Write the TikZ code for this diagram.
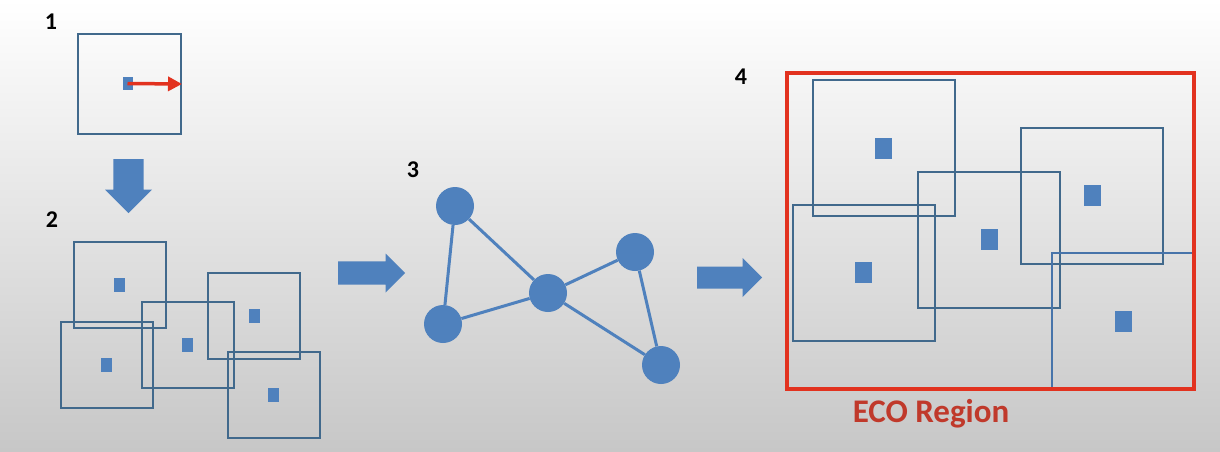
\documentclass[tikz,border=0pt]{standalone}
\usepackage{fontspec}
\setmainfont{Carlito}
\usepackage{xcolor}
\usepackage{tikz}
\usetikzlibrary{positioning,arrows.meta,shapes.arrows}

\definecolor{winblue}{HTML}{41698C}
\definecolor{seedblue}{HTML}{4F81BD}
\definecolor{ecored}{HTML}{E2321F}
\definecolor{ecotext}{HTML}{C0392B}

\begin{document}
\begin{tikzpicture}[x=1pt, y=-1pt,
    win/.style={draw=winblue, line width=2pt, inner sep=0pt,
                minimum width=92pt, minimum height=86pt},
    bigwin/.style={win, minimum width=142pt, minimum height=136pt},
    seed/.style={fill=seedblue, inner sep=0pt, minimum width=11pt, minimum height=14pt},
    bigseed/.style={seed, minimum width=17pt, minimum height=21pt},
    vert/.style={circle, fill=seedblue, inner sep=0pt, minimum size=38pt},
    link/.style={draw=seedblue, line width=3pt},
    blockarr/.style={single arrow, fill=seedblue, inner xsep=0pt, anchor=tail,
                     single arrow head indent=0pt},
    redarr/.style={-{Triangle[length=14pt, width=14pt]}, draw=ecored, line width=3.5pt},
    num/.style={font=\fontsize{24}{28}\selectfont\bfseries},
  ]
  % background
  \shade[top color=white, middle color=black!8, bottom color=black!22]
    (0,0) rectangle (1220,452);
  \path[use as bounding box] (0,0) rectangle (1220,452);

  % 1: one window
  \node[num] (n1) at (51,22) {1};
  \node[win, minimum width=103pt, minimum height=100pt] (w1) at (129.5,84) {};
  \node[seed, minimum width=10pt, minimum height=13pt] (s1) at (127.5,83.5) {};
  \draw[redarr] (s1.center) -- (w1.east);
  \node[blockarr, rotate=-90, inner ysep=12.5pt, minimum width=47pt,
        minimum height=54pt] (down) at (128.5,159) {};

  % 2: several windows
  \node[num] (n2) at (52,220) {2};
  \node[win] (wa) at (119.5,285) {};
  \node[win] (wb) at (106.5,365) {};
  \node[win] (wc) at (187.5,344.5) {};
  \node[win] (wd) at (254,316) {};
  \node[win] (we) at (273.5,395) {};
  \foreach \w in {wa,wb,wc,wd,we}
    \node[seed] at (\w.center) {};
  \node[blockarr, inner ysep=10.5pt, minimum width=39pt,
        minimum height=67pt] (right1) at (338,273) {};

  % 3: graph of windows
  \node[num] (n3) at (413,170) {3};
  \node[vert] (v1) at (455,206) {};
  \node[vert] (v2) at (443,324) {};
  \node[vert] (v3) at (548,293) {};
  \node[vert] (v4) at (635,252) {};
  \node[vert] (v5) at (661,365) {};
  \draw[link] (v1) -- (v2);
  \draw[link] (v1) -- (v3);
  \draw[link] (v2) -- (v3);
  \draw[link] (v3) -- (v4);
  \draw[link] (v3) -- (v5);
  \draw[link] (v4) -- (v5);
  \node[blockarr, inner ysep=9pt, minimum width=39pt,
        minimum height=65pt] (right2) at (697,277.5) {};

  % 4: merged region
  \node[num] (n4) at (741,77) {4};
  \node[bigwin] (wp) at (883.5,148) {};
  \node[bigwin] (wq) at (863.5,272.5) {};
  \node[bigwin] (wr) at (989,239.5) {};
  \node[bigwin] (ws) at (1092,195.5) {};
  \node[bigwin, draw=seedblue!90!black, line width=1.5pt] (wt) at (1123,321) {};
  \foreach \w in {wp,wq,wr,ws,wt}
    \node[bigseed] at (\w.center) {};
  \node[draw=ecored, line width=4pt, minimum width=407pt, minimum height=316pt,
        inner sep=0pt] (region) at (990.5,231) {};
  \node[font=\fontsize{33}{38}\selectfont\bfseries, text=ecotext] (eco)
    at (931,414) {ECO Region};
\end{tikzpicture}
\end{document}
